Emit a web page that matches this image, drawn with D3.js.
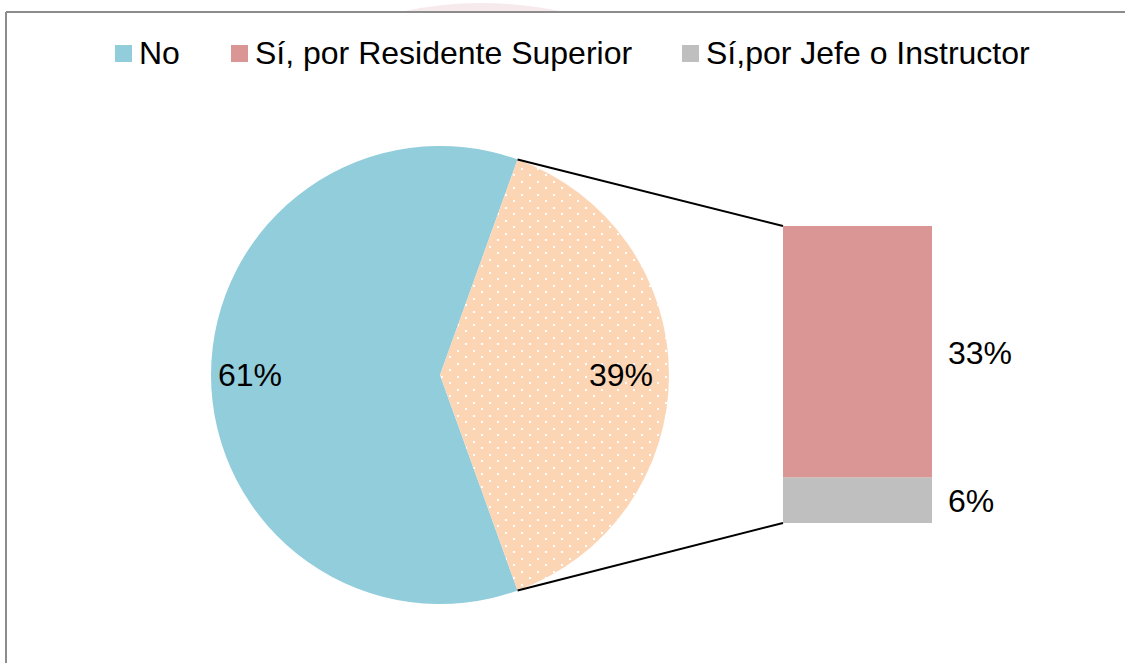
<!DOCTYPE html>
<html>
<head>
<meta charset="utf-8">
<script src="https://cdn.jsdelivr.net/npm/d3@7/dist/d3.min.js"></script>
<style>
  html, body { margin: 0; padding: 0; background: #fff; }
  svg { display: block; font-family: Arial, "Liberation Sans", sans-serif; }
</style>
</head>
<body>
<svg id="chart" width="1125" height="663"></svg>
<script>
// data
const categories = ['No', 'Sí, por Residente Superior', 'Sí,por Jefe o Instructor'];
const values = [61, 33, 6];
const colors = ['#92CDDC', '#D99694', '#BFBFBF'];
const otherColor = '#FCD5B5';

const svg = d3.select('#chart');
const W = 1125, H = 663;

// faint watermark behind the frame top
svg.append('path')
  .attr('d', 'M400,12 Q480,-6 565,12 Z')
  .attr('fill', '#f6eaed');

// frame
svg.append('line').attr('x1', 6).attr('y1', 12).attr('x2', W).attr('y2', 12)
  .attr('stroke', '#8c8c8c').attr('stroke-width', 2);
svg.append('line').attr('x1', 6).attr('y1', 12).attr('x2', 6).attr('y2', H)
  .attr('stroke', '#8c8c8c').attr('stroke-width', 2);

// dotted fill for the "other" slice
const defs = svg.append('defs');
const pat = defs.append('pattern').attr('id', 'dots')
  .attr('patternUnits', 'userSpaceOnUse').attr('width', 16).attr('height', 13);
pat.append('rect').attr('width', 16).attr('height', 13).attr('fill', otherColor);
pat.append('rect').attr('x', 1).attr('y', 1).attr('width', 2).attr('height', 2).attr('fill', '#fff');
pat.append('rect').attr('x', 9).attr('y', 7).attr('width', 2).attr('height', 2).attr('fill', '#fff');

// pie: "No" and the combined rest
const other = d3.sum(values.slice(1));
const pieData = [values[0], other];
const total = d3.sum(pieData);
const otherSpan = other / total * 2 * Math.PI;
const start = Math.PI / 2 + otherSpan / 2;

const cx = 440, cy = 375, R = 229;
const arcs = d3.pie().sort(null).startAngle(start).endAngle(start + 2 * Math.PI)(pieData);
const arc = d3.arc().innerRadius(0).outerRadius(R);

const pieG = svg.append('g').attr('transform', `translate(${cx},${cy})`);
pieG.selectAll('path').data(arcs).enter().append('path')
  .attr('d', arc)
  .attr('fill', (d, i) => i === 0 ? colors[0] : 'url(#dots)');

// pie labels
const labelPos = [[-222, 11], [213, 11]];
pieG.selectAll('text.pl').data(arcs).enter().append('text')
  .attr('class', 'pl')
  .attr('x', (d, i) => labelPos[i][0])
  .attr('y', (d, i) => labelPos[i][1])
  .attr('text-anchor', (d, i) => i === 0 ? 'start' : 'end')
  .attr('font-size', 32)
  .attr('fill', '#000')
  .text(d => Math.round(d.value / total * 100) + '%');

// stacked bar of the split
const barX = 783, barW = 149;
const y = d3.scaleLinear().domain([0, other]).range([523, 226]);
const stackRows = [];
let acc = 0;
for (let i = values.length - 1; i >= 1; i--) {
  stackRows.push({ i, y0: acc, y1: acc + values[i] });
  acc += values[i];
}
svg.selectAll('rect.bar').data(stackRows).enter().append('rect')
  .attr('class', 'bar')
  .attr('x', barX).attr('width', barW)
  .attr('y', d => y(d.y1))
  .attr('height', d => y(d.y0) - y(d.y1))
  .attr('fill', d => colors[d.i]);

svg.selectAll('text.bl').data(stackRows).enter().append('text')
  .attr('class', 'bl')
  .attr('x', 948)
  .attr('y', d => y((d.y0 + d.y1) / 2) + 12)
  .attr('font-size', 32)
  .attr('fill', '#000')
  .text(d => values[d.i] + '%');

// connector lines
const a0 = arcs[1].startAngle, a1 = arcs[1].endAngle;
const pTop = [cx + R * Math.sin(a0), cy - R * Math.cos(a0)];
const pBot = [cx + R * Math.sin(a1), cy - R * Math.cos(a1)];
svg.append('line').attr('x1', pTop[0]).attr('y1', pTop[1]).attr('x2', barX).attr('y2', y(other))
  .attr('stroke', '#000').attr('stroke-width', 2);
svg.append('line').attr('x1', pBot[0]).attr('y1', pBot[1]).attr('x2', barX).attr('y2', y(0))
  .attr('stroke', '#000').attr('stroke-width', 2);

// legend
const legendX = [115, 231, 682];
const lg = svg.selectAll('g.lg').data(categories).enter().append('g')
  .attr('class', 'lg')
  .attr('transform', (d, i) => `translate(${legendX[i]},0)`);
lg.append('rect').attr('x', 0).attr('y', 45).attr('width', 17).attr('height', 17)
  .attr('fill', (d, i) => colors[i]);
lg.append('text').attr('x', 24).attr('y', 64)
  .attr('font-size', 32).attr('fill', '#000')
  .text(d => d);
</script>
</body>
</html>
